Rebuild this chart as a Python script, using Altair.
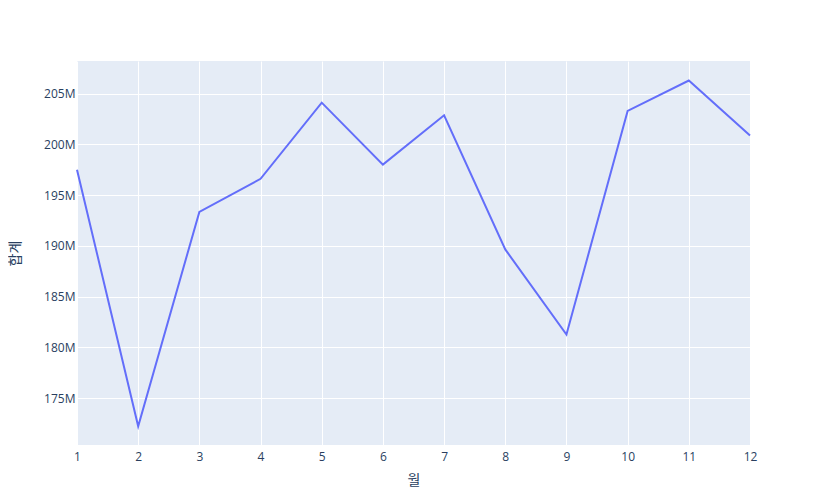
import altair as alt
import pandas as pd

months = [1, 2, 3, 4, 5, 6, 7, 8, 9, 10, 11, 12]
totals = [197.5e6, 172.25e6, 193.35e6, 196.6e6, 204.1e6, 198.0e6,
          202.86e6, 189.65e6, 181.28e6, 203.29e6, 206.28e6, 200.87e6]

df = pd.DataFrame({"월": months, "합계": totals})

FONT = "Open Sans, Noto Sans CJK KR, sans-serif"
TXT = "#2a3f5f"

W, H = 673, 384

chart = alt.Chart(df).mark_line(color="#636EFA", strokeWidth=2).encode(
    x=alt.X("월:Q",
            scale=alt.Scale(domain=[1, 12], nice=False, zero=False),
            axis=alt.Axis(values=months, format="d", title="월",
                          grid=True, gridColor="white", gridWidth=1,
                          domain=False, ticks=False, tickSize=0,
                          labelPadding=6, labelFont=FONT, labelFontSize=12,
                          labelColor=TXT, titleFont=FONT, titleFontSize=14,
                          titleColor=TXT, titleFontWeight="normal",
                          titleX=W / 2, titleY=35, titleBaseline="middle",
                          labelFlush=False)),
    y=alt.Y("합계:Q",
            scale=alt.Scale(domain=[170.4e6, 208.2e6], nice=False, zero=False),
            axis=alt.Axis(values=[175e6, 180e6, 185e6, 190e6, 195e6, 200e6, 205e6],
                          format="~s", title="합계",
                          grid=True, gridColor="white", gridWidth=1,
                          domain=False, ticks=False, tickSize=0,
                          labelPadding=2, labelFont=FONT, labelFontSize=12,
                          labelColor=TXT, titleFont=FONT, titleFontSize=14,
                          titleColor=TXT, titleFontWeight="normal",
                          titleX=-62, titleY=H / 2, titleBaseline="middle",
                          titleAngle=270)),
).properties(
    width=W, height=H,
    background="white",
    autosize=alt.AutoSizeParams(type="none"),
    padding={"left": 69, "top": 53, "right": 60, "bottom": 50},
).configure_view(
    fill="#E5ECF6", strokeWidth=0
)

chart.save("out.html", embed_options={"renderer": "svg", "actions": False})
